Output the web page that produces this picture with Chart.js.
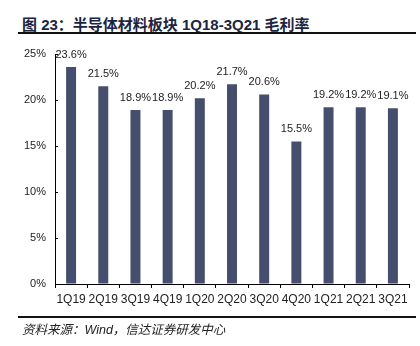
<!DOCTYPE html>
<html><head><meta charset="utf-8">
<script src="https://cdn.jsdelivr.net/npm/chart.js@4"></script>
<style>
html,body{margin:0;padding:0;background:#fff;}
#wrap{position:relative;width:420px;height:346px;overflow:hidden;}
#title{position:absolute;left:22px;top:13px;font:bold 15px "Liberation Sans","Noto Sans CJK SC",sans-serif;color:#1c2442;white-space:nowrap;}
#src{position:absolute;left:22px;top:319px;font:italic 12.5px "Liberation Sans","Noto Sans CJK SC",sans-serif;color:#222;white-space:nowrap;}
.rule{position:absolute;left:18px;width:398px;background:#111;}
canvas{position:absolute;left:0;top:0;}
</style></head>
<body><div id="wrap">
<div id="title">图 23：半导体材料板块 1Q18-3Q21 毛利率</div>
<div class="rule" style="top:32px;height:2px"></div>
<canvas id="c" width="420" height="346"></canvas>
<div class="rule" style="top:316px;height:1.5px"></div>
<div id="src">资料来源：Wind，信达证券研发中心</div>
</div>
<script>
const categories = ["1Q19","2Q19","3Q19","4Q19","1Q20","2Q20","3Q20","4Q20","1Q21","2Q21","3Q21"];
const grossMargin = [23.6,21.5,18.9,18.9,20.2,21.7,20.6,15.5,19.2,19.2,19.1];
const yTicks = [0,5,10,15,20,25];

const labelPlugin = {
  id:'labels',
  afterDatasetsDraw(chart){
    const ctx = chart.ctx;
    const meta = chart.getDatasetMeta(0);
    ctx.save();
    ctx.font = '11px "Liberation Sans", Arial, sans-serif';
    ctx.fillStyle = '#222';
    ctx.textAlign = 'center';
    ctx.textBaseline = 'alphabetic';
    meta.data.forEach((bar,i)=>{
      ctx.fillText(grossMargin[i].toFixed(1)+'%', bar.x, bar.y-9);
    });
    const y = chart.scales.y;
    ctx.strokeStyle = '#000';
    ctx.lineWidth = 1;
    yTicks.forEach(v=>{
      const py = Math.round(y.getPixelForValue(v))+0.5;
      ctx.beginPath();
      ctx.moveTo(y.right, py);
      ctx.lineTo(y.right+3, py);
      ctx.stroke();
    });
    ctx.restore();
  }
};

new Chart(document.getElementById('c'), {
  type:'bar',
  data:{labels:categories, datasets:[{data:grossMargin, backgroundColor:'#454E6D', borderWidth:0, categoryPercentage:1, barPercentage:0.31}]},
  options:{
    responsive:false, animation:false,
    layout:{padding:{top:54,right:11,left:0,bottom:32}},
    plugins:{legend:{display:false}, tooltip:{enabled:false}},
    scales:{
      x:{
        grid:{display:true, drawOnChartArea:false, drawTicks:true, tickLength:4, color:'#000', offset:true},
        border:{display:true,color:'#000',width:1},
        ticks:{color:'#222', font:{family:'"Liberation Sans", Arial, sans-serif', size:12}, maxRotation:0, autoSkip:false, padding:4},
        afterFit(s){ s.height = 30; }
      },
      y:{
        min:0, max:25,
        afterBuildTicks(s){ s.ticks = yTicks.map(v=>({value:v})); },
        grid:{display:true, drawOnChartArea:false, drawTicks:false},
        border:{display:true,color:'#000',width:1},
        ticks:{color:'#222', font:{family:'"Liberation Sans", Arial, sans-serif', size:11}, padding:9, callback:v=>v+'%'},
        afterFit(s){ s.width = 55; }
      }
    }
  },
  plugins:[labelPlugin]
});
</script>
</body></html>
